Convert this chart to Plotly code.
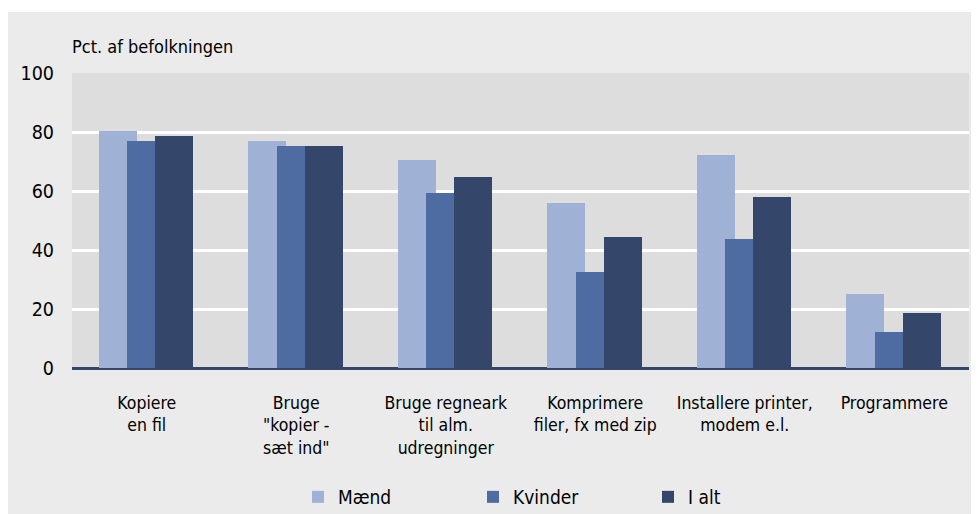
import plotly.graph_objects as go

categories = ["Kopiere<br>en fil", "Bruge<br>\"kopier -<br>sæt ind\"", "Bruge regneark<br>til alm.<br>udregninger",
              "Komprimere<br>filer, fx med zip", "Installere printer,<br>modem e.l.", "Programmere"]
maend = [80.5, 76.8, 70.6, 56.0, 72.3, 25.2]
kvinder = [77.1, 75.4, 59.4, 32.7, 43.8, 12.3]
i_alt = [78.8, 75.4, 64.9, 44.5, 58.1, 18.8]
series_names = ["Mænd", "Kvinder", "I alt"]
colors = ["#9FB1D5", "#4E6CA2", "#34476B"]
offsets = [-0.32, -0.13, 0.056]
y_ticks = [0, 20, 40, 60, 80, 100]

FONT = "DejaVu Sans Condensed, Liberation Sans Narrow, sans-serif"

W, H = 971, 506
L, R, T, B = 64, 10, 65, 146
PW, PH = W - L - R, H - T - B

fig = go.Figure()
for name, vals, col, off in zip(series_names, [maend, kvinder, i_alt], colors, offsets):
    fig.add_trace(go.Bar(x=categories, y=vals, name=name, marker_color=col,
                         marker_line_width=0, width=0.254, offset=off))

fig.update_layout(
    barmode="overlay",
    width=W, height=H,
    paper_bgcolor="#EBEBEB", plot_bgcolor="#DDDDDD",
    margin=dict(l=L, r=R, t=T, b=B, autoexpand=False),
    font=dict(family=FONT, color="#000000", size=15),
    showlegend=True,
    legend=dict(orientation="h", xref="container", yref="container", x=290 / W, xanchor="left",
                y=17 / H, yanchor="middle",
                font=dict(size=19), entrywidth=130, entrywidthmode="pixels",
                itemwidth=30, bgcolor="rgba(0,0,0,0)", traceorder="normal"),
    bargap=0,
)
fig.update_xaxes(showgrid=False, ticks="", tickfont=dict(size=17.5), showline=False, automargin=False,
                 ticklabelstandoff=22)
fig.update_yaxes(range=[0, 100], tickvals=y_ticks, showgrid=True, gridcolor="#FFFFFF", gridwidth=2.5,
                 zeroline=True, zerolinecolor="#34476B", zerolinewidth=3, automargin=False,
                 tickfont=dict(size=19.5), ticks="", ticklen=0, ticklabelstandoff=17)
fig.add_annotation(text="Pct. af befolkningen", xref="paper", yref="paper", x=0, y=1.0,
                   xanchor="left", yanchor="bottom", yshift=14, xshift=-2, showarrow=False,
                   font=dict(size=18))
# white strip at the very top of the page, as in the reference
fig.add_shape(type="rect", xref="paper", yref="paper", layer="below",
              x0=-L / PW, x1=1 + R / PW, y0=1 + (T - 4) / PH, y1=1 + T / PH,
              fillcolor="#FFFFFF", line_width=0)

fig.write_html("out.html")
